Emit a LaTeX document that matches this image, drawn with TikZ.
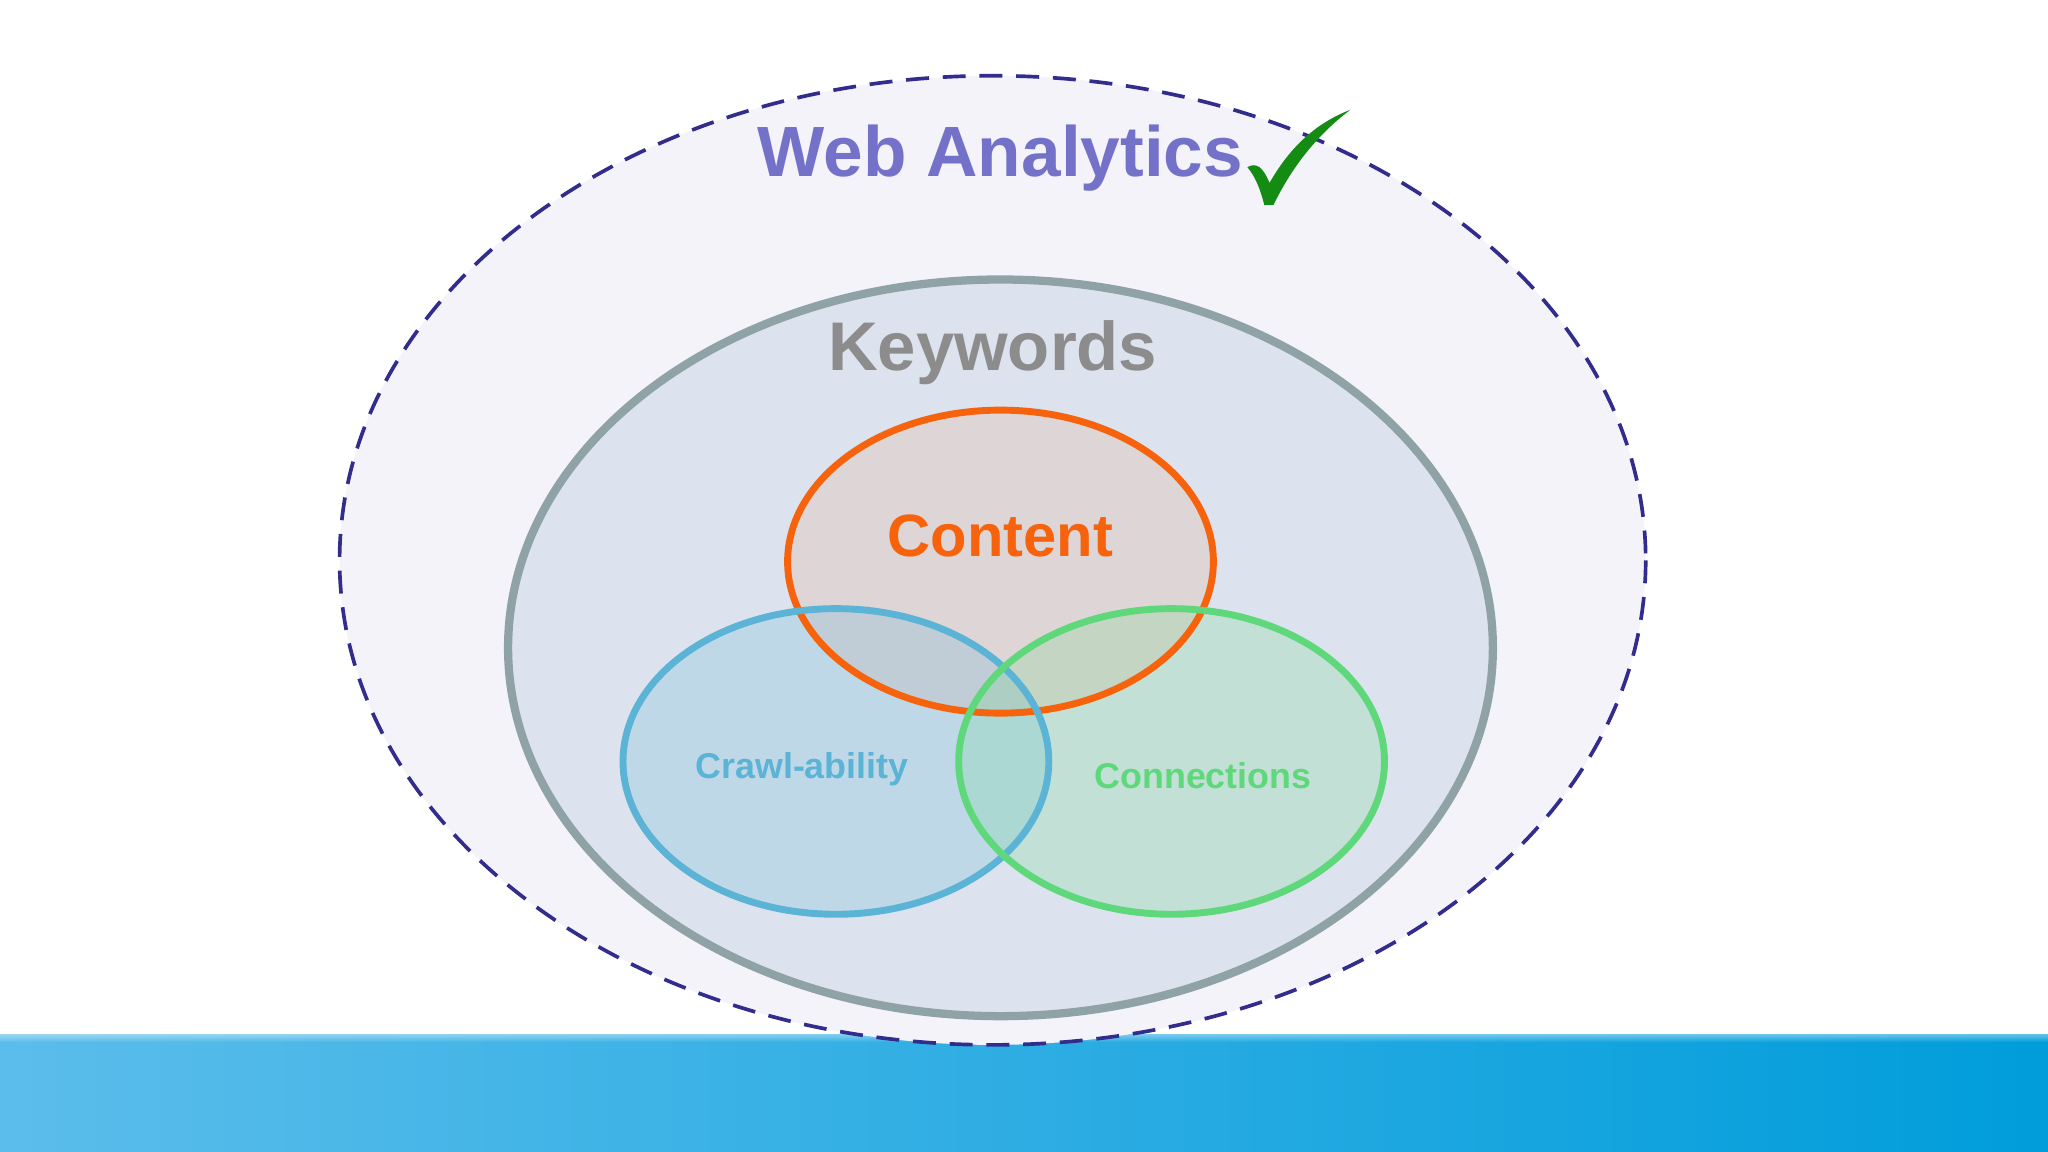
\documentclass[tikz,border=0pt]{standalone}
\usepackage{fontspec}
\setmainfont{Liberation Sans}
\usetikzlibrary{fadings}
\definecolor{barL}{RGB}{91,189,235}
\definecolor{barR}{RGB}{0,157,219}
\definecolor{dashc}{RGB}{50,45,140}
\definecolor{outerf}{RGB}{244,243,250}
\definecolor{kwd}{RGB}{143,163,166}
\definecolor{kwf}{RGB}{220,227,238}
\definecolor{corange}{RGB}{247,99,12}
\definecolor{cblue}{RGB}{91,179,214}
\definecolor{cgreen}{RGB}{94,216,122}
\definecolor{cpurple}{RGB}{116,114,200}
\definecolor{cgray}{RGB}{140,140,140}
\definecolor{ccheck}{RGB}{20,140,20}
\begin{document}
\begin{tikzpicture}[x=0.01cm,y=-0.01cm,
  lbl/.style={inner sep=0pt}]
\useasboundingbox (0,0) rectangle (1568,882);
\fill[white] (0,0) rectangle (1568,882);
\shade[left color=barL, right color=barR] (0,792) rectangle (1568,882);
\fill[white, path fading=south] (0,782) rectangle (1568,798);
\draw[line width=0.8pt, dash pattern=on 5pt off 3pt, draw=dashc, fill=outerf] (760,429) ellipse [x radius=500, y radius=371];
\draw[line width=1.8pt, draw=kwd, fill=kwf] (766,496) ellipse [x radius=377, y radius=282];
\fill[corange, fill opacity=0.1] (766,430) ellipse [x radius=163, y radius=116];
\fill[cblue, fill opacity=0.22] (640,583) ellipse [x radius=163, y radius=117];
\fill[cgreen, fill opacity=0.2] (897,583) ellipse [x radius=163, y radius=117];
\draw[line width=1.5pt, draw=corange] (766,430) ellipse [x radius=163, y radius=116];
\draw[line width=1.5pt, draw=cblue] (640,583) ellipse [x radius=163, y radius=117];
\draw[line width=1.5pt, draw=cgreen] (897,583) ellipse [x radius=163, y radius=117];
\node[lbl, text=cpurple, font=\fontsize{15.5}{18}\selectfont\bfseries] (wa) at (766,121) {Web Analytics};
\node[lbl, text=cgray, font=\fontsize{15}{18}\selectfont\bfseries] (kw) at (760,270) {Keywords};
\node[lbl, text=corange, font=\fontsize{13}{16}\selectfont\bfseries] (ct) at (766,410) {Content};
\node[lbl, text=cblue, font=\fontsize{7.8}{9}\selectfont\bfseries] (cr) at (614,589) {Crawl-ability};
\node[lbl, text=cgreen, font=\fontsize{7.8}{9}\selectfont\bfseries] (cn) at (921,594) {Connections};
\fill[ccheck] (955,128) .. controls (962,124) and (967,128) .. (972,140) .. controls (988,112) and (1008,94) .. (1034,84) .. controls (1010,102) and (990,126) .. (975,157) -- (968,157) .. controls (965,145) and (961,135) .. (955,128) -- cycle;
\end{tikzpicture}
\end{document}
